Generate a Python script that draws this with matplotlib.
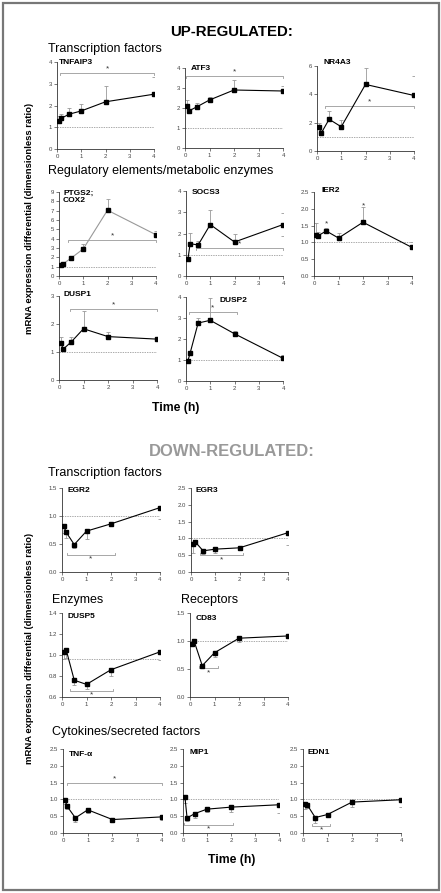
import matplotlib
matplotlib.use("Agg")
import matplotlib.pyplot as plt
from matplotlib.patches import Rectangle

plt.rcParams['font.family'] = ['Liberation Sans', 'DejaVu Sans']

W, H = 441, 893

# sampling times (h)
t = [0.08, 0.17, 0.5, 1, 2, 4]

# ---- up-regulated: means, upper errors ----
tnfaip3 = [1.29, 1.41, 1.6, 1.75, 2.17, 2.52]
tnfaip3_hi = [0.25, 0.19, 0.28, 0.33, 0.71, 0.78]
atf3 = [2.12, 1.86, 2.07, 2.4, 2.9, 2.85]
atf3_hi = [0.3, 0.1, 0.17, 0.13, 0.48, 0.23]
nr4a3 = [1.71, 1.25, 2.24, 1.71, 4.7, 3.92]
nr4a3_hi = [0.29, 0.2, 0.58, 0.46, 1.14, 1.37]
ptgs2 = [1.2, 1.3, 1.92, 2.9, 7.05, 4.42]
ptgs2_hi = [0.05, 0.05, 0.1, 0.5, 1.2, 0.35]
socs3 = [0.79, 1.52, 1.46, 2.42, 1.6, 2.42]
socs3_hi = [0.0, 0.5, 0.2, 0.68, 0.36, 0.53]
socs3_lo = [0, 0, 0, 0, 0, 0.55]
ier2 = [1.23, 1.2, 1.34, 1.13, 1.6, 0.85]
ier2_hi = [0.34, 0.12, 0.1, 0.16, 0.44, 0.16]
dusp1 = [1.33, 1.1, 1.36, 1.83, 1.55, 1.46]
dusp1_hi = [0.2, 0.03, 0.16, 0.62, 0.18, 0.05]
dusp2 = [0.97, 1.33, 2.76, 2.89, 2.25, 1.08]
dusp2_hi = [0.1, 0.05, 0.22, 1.06, 0.14, 0.17]

# ---- down-regulated: means, lower errors ----
egr2 = [0.82, 0.71, 0.49, 0.73, 0.86, 1.15]
egr2_lo = [0.12, 0.11, 0.07, 0.14, 0.02, 0.2]
egr3 = [0.83, 0.9, 0.63, 0.68, 0.72, 1.17]
egr3_lo = [0.26, 0.05, 0.1, 0.11, 0.02, 0.37]
dusp5 = [1.03, 1.05, 0.76, 0.72, 0.86, 1.03]
dusp5_lo = [0.07, 0.08, 0.05, 0.04, 0.06, 0.08]
cd83 = [0.95, 0.995, 0.56, 0.79, 1.05, 1.09]
cd83_lo = [0.04, 0.02, 0.0, 0.07, 0.07, 0.02]
tnfa = [0.99, 0.79, 0.45, 0.69, 0.4, 0.48]
tnfa_lo = [0.14, 0.09, 0.13, 0.09, 0.07, 0.1]
mip1 = [1.07, 0.45, 0.58, 0.71, 0.77, 0.84]
mip1_lo = [0.17, 0.1, 0.13, 0.08, 0.14, 0.24]
edn1 = [0.87, 0.84, 0.46, 0.55, 0.92, 0.99]
edn1_lo = [0.16, 0.1, 0.16, 0.03, 0.15, 0.22]

zero = [0, 0, 0, 0, 0, 0]

fig = plt.figure(figsize=(W / 100, H / 100), dpi=100)


def fx(x):
    return x / W


def fy(y):
    return 1 - y / H


def panel(box, ylim, yticks, y, lo, hi, name, name_xy, sigs, ref=1.0,
          lc='black', stars=()):
    x0, x1, yt, yb = box
    ax = fig.add_axes([fx(x0), fy(yb), (x1 - x0) / W, (yb - yt) / H])
    ax.set_xlim(0, 4)
    ax.set_ylim(*ylim)
    ax.set_xticks([0, 1, 2, 3, 4])
    ax.set_yticks(yticks)
    ax.tick_params(labelsize=4.3, length=2, width=0.5, pad=1.5,
                   colors='#444')
    for s in ['top', 'right']:
        ax.spines[s].set_visible(False)
    for s in ['left', 'bottom']:
        ax.spines[s].set_linewidth(0.6)
        ax.spines[s].set_color('#333')
    ax.axhline(ref, color='#888', lw=0.5, ls=(0, (2, 1.5)), zorder=1)
    ax.errorbar(t, y, yerr=[lo, hi], fmt='none', ecolor='#999',
                elinewidth=0.6, capsize=1.6, capthick=0.6, zorder=2)
    ax.plot(t, y, color=lc, lw=0.8, zorder=3)
    ax.plot(t, y, 's', color='black', ms=2.2, zorder=4)
    span = ylim[1] - ylim[0]
    for (a, b, yy, side) in sigs:
        tk = 0.025 * span * (-side)
        ax.plot([a, a, b, b], [yy + tk, yy, yy, yy + tk], color='#999',
                lw=0.6, clip_on=False, zorder=2)
        ax.text((a + b) / 2, yy + side * 0.05 * span, '*', ha='center',
                va='center', fontsize=6, color='#333')
    for (sx, sy) in stars:
        ax.text(sx, sy, '*', ha='center', va='center', fontsize=6,
                color='#333')
    fig.text(fx(name_xy[0]), fy(name_xy[1]), name, fontsize=6,
             fontweight='bold', ha='left', va='center', linespacing=1.15)
    return ax


# ---------- UP-REGULATED ----------
fig.text(fx(232), fy(32), 'UP-REGULATED:', fontsize=10.8, fontweight='bold',
         ha='center', va='center')
fig.text(fx(48), fy(49), 'Transcription factors', fontsize=9,
         ha='left', va='center')
panel((57, 154, 62, 149), (0, 4), [0, 1, 2, 3, 4], tnfaip3, zero,
      tnfaip3_hi, 'TNFAIP3', (59, 62), [(0.14, 4, 3.48, 1)])
panel((185, 283, 68, 148), (0, 4), [0, 1, 2, 3, 4], atf3, zero,
      atf3_hi, 'ATF3', (191, 68), [(0.05, 4, 3.6, 1)])
panel((317, 414, 66, 151), (0, 6), [0, 2, 4, 6], nr4a3, zero,
      nr4a3_hi, 'NR4A3', (323, 63), [(0.35, 4, 3.18, 1)])

fig.text(fx(48), fy(171), 'Regulatory elements/metabolic enzymes',
         fontsize=9, ha='left', va='center')
panel((59, 156, 192, 276), (0, 9), list(range(10)), ptgs2, zero,
      ptgs2_hi, 'PTGS2;\nCOX2', (63, 197), [(0.38, 4, 3.85, 1)],
      lc='#999')
panel((186, 283, 191, 276), (0, 4), [0, 1, 2, 3, 4], socs3, socs3_lo,
      socs3_hi, 'SOCS3', (192, 192), [(0.41, 4, 1.31, 1)])
panel((314, 412, 192, 276), (0, 2.5), [0, 0.5, 1.0, 1.5, 2.0, 2.5], ier2,
      zero, ier2_hi, 'IER2', (322, 191), [],
      stars=[(0.5, 1.55), (2, 2.1)])

panel((59, 157, 296, 380), (0, 3), [0, 1, 2, 3], dusp1, zero, dusp1_hi,
      'DUSP1', (64, 295), [(0.44, 4, 2.55, 1)])
panel((186, 283, 297, 381), (0, 4), [0, 1, 2, 3, 4], dusp2, zero,
      dusp2_hi, 'DUSP2', (220, 300), [(0.12, 2.1, 3.28, 1)])

fig.text(fx(176), fy(408), 'Time (h)', fontsize=8.8, fontweight='bold',
         ha='center', va='center')
fig.text(fx(30), fy(218), 'mRNA expression differential (dimensionless ratio)',
         fontsize=6.8, fontweight='bold', rotation=90, ha='center',
         va='center')

# ---------- DOWN-REGULATED ----------
fig.text(fx(232), fy(451), 'DOWN-REGULATED:', fontsize=12,
         fontweight='bold', color='#999', ha='center', va='center')
fig.text(fx(48), fy(473), 'Transcription factors', fontsize=9,
         ha='left', va='center')
panel((62, 160, 488, 572), (0, 1.5), [0, 0.5, 1.0, 1.5], egr2, egr2_lo,
      zero, 'EGR2', (67, 491), [(0.19, 2.16, 0.31, -1)])
panel((191, 288, 488, 572), (0, 2.5), [0, 0.5, 1.0, 1.5, 2.0, 2.5], egr3,
      egr3_lo, zero, 'EGR3', (196, 491), [(0.38, 2.15, 0.5, -1)])

fig.text(fx(52), fy(600), 'Enzymes', fontsize=9, ha='left', va='center')
fig.text(fx(181), fy(600), 'Receptors', fontsize=9, ha='left',
         va='center')
panel((62, 160, 613, 697), (0.6, 1.4), [0.6, 0.8, 1.0, 1.2, 1.4], dusp5,
      dusp5_lo, zero, 'DUSP5', (67, 616), [(0.33, 2.1, 0.66, -1)],
      ref=0.96)
panel((190, 288, 613, 697), (0, 1.5), [0, 0.5, 1.0, 1.5], cd83, cd83_lo,
      zero, 'CD83', (196, 618), [(0.37, 1.15, 0.51, -1)])

fig.text(fx(52), fy(732), 'Cytokines/secreted factors', fontsize=9,
         ha='left', va='center')
panel((63, 162, 749, 833), (0, 2.5), [0, 0.5, 1.0, 1.5, 2.0, 2.5], tnfa,
      tnfa_lo, zero, 'TNF-α', (69, 754), [(0.18, 4, 1.49, 1)])
panel((183, 279, 749, 833), (0, 2.5), [0, 0.5, 1.0, 1.5, 2.0, 2.5], mip1,
      mip1_lo, zero, 'MIP1', (189, 753), [(0.04, 2.1, 0.25, -1)])
panel((303, 401, 749, 833), (0, 2.5), [0, 0.5, 1.0, 1.5, 2.0, 2.5], edn1,
      edn1_lo, zero, 'EDN1', (308, 753), [(0.37, 1.1, 0.22, -1)])

fig.text(fx(232), fy(860), 'Time (h)', fontsize=8.8, fontweight='bold',
         ha='center', va='center')
fig.text(fx(30), fy(648), 'mRNA expression differential (dimensionless ratio)',
         fontsize=6.8, fontweight='bold', rotation=90, ha='center',
         va='center')

# outer frame
fig.patches.append(Rectangle((fx(3), fy(890)), (436) / W, (887) / H,
                             transform=fig.transFigure, fill=False,
                             edgecolor='#777', lw=1.6))

fig.savefig('out.png', dpi=100)
